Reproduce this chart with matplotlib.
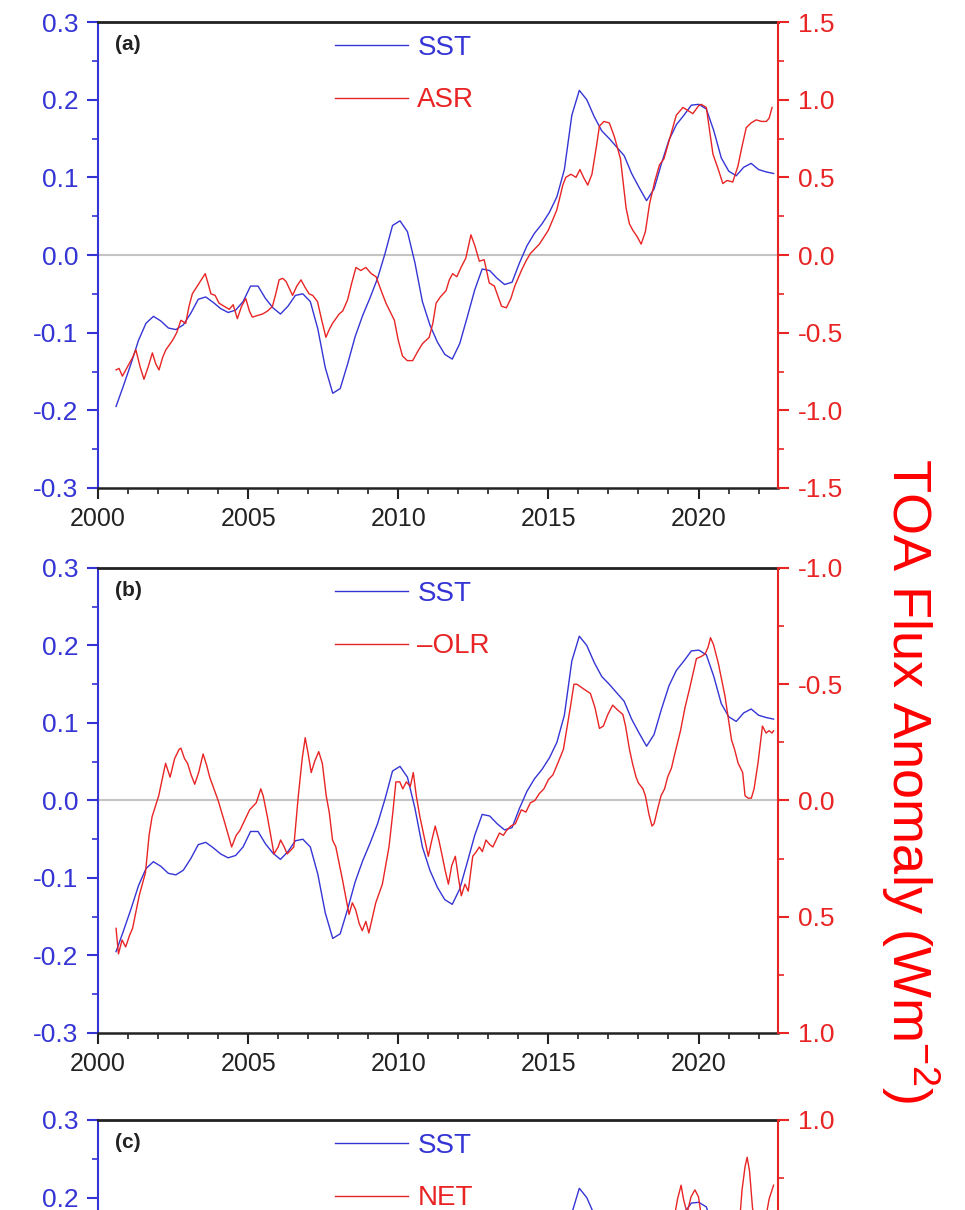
import numpy as np
import matplotlib
matplotlib.use("Agg")
import matplotlib.pyplot as plt
from matplotlib.ticker import MultipleLocator, FormatStrFormatter, NullFormatter, FuncFormatter

plt.rcParams["font.family"] = ["Liberation Sans", "DejaVu Sans"]
plt.rcParams["mathtext.default"] = "regular"
plt.rcParams["axes.unicode_minus"] = False

# SST anomaly (K), roughly quarterly from mid 2000 to mid 2022
sst_t = np.linspace(2000.6, 2022.5, 89)
sst = [-0.195, -0.168, -0.140, -0.110, -0.088, -0.079, -0.085, -0.094, -0.096, -0.090,
       -0.075, -0.057, -0.054, -0.061, -0.069, -0.074, -0.071, -0.060, -0.040, -0.040,
       -0.056, -0.068, -0.076, -0.066, -0.052, -0.050, -0.060, -0.095, -0.145, -0.178,
       -0.172, -0.140, -0.105, -0.078, -0.055, -0.030, 0.002, 0.038, 0.044, 0.030,
       -0.010, -0.060, -0.090, -0.112, -0.128, -0.134, -0.114, -0.080, -0.045, -0.018,
       -0.020, -0.030, -0.038, -0.035, -0.010, 0.012, 0.028, 0.040, 0.055, 0.075,
       0.110, 0.180, 0.212, 0.200, 0.178, 0.160, 0.150, 0.139, 0.128, 0.105,
       0.087, 0.070, 0.085, 0.118, 0.148, 0.168, 0.180, 0.193, 0.194, 0.188,
       0.160, 0.125, 0.108, 0.102, 0.113, 0.118, 0.110, 0.107, 0.105]

# ASR anomaly (W m-2)
asr_t = [2000.60, 2000.70, 2000.81, 2000.98, 2001.15, 2001.26, 2001.40, 2001.53, 2001.67, 2001.81,
         2001.92, 2002.03, 2002.15, 2002.26, 2002.48, 2002.62, 2002.76, 2002.92, 2003.03, 2003.14,
         2003.37, 2003.57, 2003.66, 2003.76, 2003.90, 2004.03, 2004.20, 2004.37, 2004.50, 2004.64,
         2004.78, 2004.92, 2005.04, 2005.14, 2005.30, 2005.48, 2005.65, 2005.81, 2005.92, 2006.03,
         2006.15, 2006.26, 2006.38, 2006.48, 2006.62, 2006.76, 2006.90, 2007.03, 2007.15, 2007.31,
         2007.45, 2007.59, 2007.70, 2007.81, 2008.03, 2008.15, 2008.31, 2008.45, 2008.59, 2008.75,
         2008.92, 2009.10, 2009.26, 2009.45, 2009.59, 2009.87, 2010.00, 2010.14, 2010.30, 2010.48,
         2010.65, 2010.81, 2011.03, 2011.15, 2011.26, 2011.40, 2011.59, 2011.70, 2011.81, 2011.95,
         2012.09, 2012.25, 2012.42, 2012.55, 2012.70, 2012.86, 2013.03, 2013.20, 2013.44, 2013.60,
         2013.75, 2013.88, 2014.10, 2014.25, 2014.40, 2014.70, 2015.00, 2015.28, 2015.48, 2015.58,
         2015.75, 2015.92, 2016.05, 2016.17, 2016.31, 2016.45, 2016.60, 2016.70, 2016.85, 2017.03,
         2017.20, 2017.40, 2017.59, 2017.70, 2017.81, 2017.95, 2018.09, 2018.23, 2018.37, 2018.55,
         2018.70, 2018.85, 2019.04, 2019.26, 2019.48, 2019.65, 2019.81, 2020.00, 2020.09, 2020.26,
         2020.48, 2020.66, 2020.81, 2020.95, 2021.14, 2021.31, 2021.45, 2021.59, 2021.75, 2021.92,
         2022.10, 2022.26, 2022.35, 2022.45]
asr = [-0.74, -0.73, -0.78, -0.72, -0.66, -0.61, -0.72, -0.80, -0.72, -0.63,
       -0.70, -0.74, -0.66, -0.61, -0.55, -0.50, -0.42, -0.44, -0.33, -0.25,
       -0.18, -0.12, -0.18, -0.25, -0.26, -0.31, -0.33, -0.35, -0.32, -0.41,
       -0.33, -0.28, -0.36, -0.40, -0.39, -0.38, -0.36, -0.33, -0.25, -0.16,
       -0.15, -0.17, -0.22, -0.26, -0.20, -0.16, -0.21, -0.25, -0.26, -0.30,
       -0.42, -0.53, -0.48, -0.44, -0.38, -0.36, -0.29, -0.18, -0.08, -0.10,
       -0.08, -0.12, -0.14, -0.24, -0.31, -0.42, -0.55, -0.65, -0.68, -0.68,
       -0.62, -0.57, -0.53, -0.44, -0.31, -0.27, -0.23, -0.16, -0.12, -0.14,
       -0.08, -0.02, 0.13, 0.06, -0.04, -0.03, -0.18, -0.20, -0.33, -0.34,
       -0.28, -0.20, -0.10, -0.04, 0.01, 0.07, 0.16, 0.29, 0.45, 0.50,
       0.52, 0.50, 0.55, 0.50, 0.45, 0.52, 0.70, 0.83, 0.86, 0.85,
       0.76, 0.62, 0.30, 0.20, 0.16, 0.12, 0.07, 0.15, 0.33, 0.48,
       0.58, 0.62, 0.75, 0.90, 0.95, 0.93, 0.91, 0.96, 0.97, 0.95,
       0.65, 0.55, 0.46, 0.48, 0.47, 0.57, 0.70, 0.82, 0.85, 0.87,
       0.86, 0.86, 0.88, 0.95]

# OLR anomaly (W m-2), shown on an inverted axis as -OLR
olr_t = [2000.60, 2000.68, 2000.80, 2000.92, 2001.05, 2001.15, 2001.37, 2001.58, 2001.70, 2001.80,
         2002.02, 2002.15, 2002.25, 2002.40, 2002.55, 2002.70, 2002.76, 2002.88, 2002.98, 2003.10,
         2003.22, 2003.35, 2003.50, 2003.62, 2003.72, 2003.86, 2004.00, 2004.23, 2004.45, 2004.60,
         2004.72, 2004.83, 2005.05, 2005.27, 2005.42, 2005.50, 2005.64, 2005.86, 2006.00, 2006.08,
         2006.20, 2006.30, 2006.52, 2006.67, 2006.80, 2006.90, 2007.00, 2007.10, 2007.22, 2007.35,
         2007.47, 2007.60, 2007.70, 2007.81, 2007.92, 2008.14, 2008.36, 2008.47, 2008.58, 2008.70,
         2008.80, 2008.92, 2009.02, 2009.25, 2009.47, 2009.69, 2009.82, 2009.92, 2010.05, 2010.15,
         2010.27, 2010.40, 2010.50, 2010.60, 2010.72, 2010.85, 2011.00, 2011.10, 2011.23, 2011.35,
         2011.45, 2011.56, 2011.67, 2011.78, 2011.90, 2012.00, 2012.10, 2012.22, 2012.33, 2012.48,
         2012.60, 2012.70, 2012.80, 2012.92, 2013.05, 2013.15, 2013.37, 2013.50, 2013.60, 2013.75,
         2013.90, 2014.10, 2014.25, 2014.40, 2014.55, 2014.70, 2014.85, 2015.00, 2015.15, 2015.28,
         2015.50, 2015.73, 2015.85, 2015.95, 2016.17, 2016.40, 2016.55, 2016.70, 2016.83, 2016.98,
         2017.14, 2017.30, 2017.48, 2017.57, 2017.70, 2017.80, 2017.92, 2018.00, 2018.15, 2018.23,
         2018.35, 2018.45, 2018.52, 2018.65, 2018.75, 2018.87, 2018.97, 2019.10, 2019.19, 2019.40,
         2019.55, 2019.70, 2019.93, 2020.10, 2020.22, 2020.32, 2020.40, 2020.50, 2020.66, 2020.88,
         2021.10, 2021.20, 2021.32, 2021.47, 2021.55, 2021.65, 2021.76, 2021.85, 2021.98, 2022.13,
         2022.25, 2022.35, 2022.45, 2022.50]
olr = [0.55, 0.66, 0.60, 0.63, 0.58, 0.55, 0.41, 0.31, 0.15, 0.07,
       -0.02, -0.10, -0.16, -0.10, -0.18, -0.22, -0.225, -0.18, -0.16, -0.11,
       -0.07, -0.12, -0.20, -0.15, -0.10, -0.05, 0.00, 0.10, 0.20, 0.15,
       0.13, 0.10, 0.04, 0.01, -0.05, -0.02, 0.07, 0.23, 0.20, 0.17,
       0.20, 0.23, 0.20, -0.02, -0.18, -0.27, -0.20, -0.12, -0.17, -0.21,
       -0.16, -0.02, 0.05, 0.17, 0.20, 0.34, 0.49, 0.44, 0.47, 0.53,
       0.56, 0.52, 0.57, 0.44, 0.36, 0.20, 0.05, -0.08, -0.08, -0.05,
       -0.08, -0.06, -0.12, -0.02, 0.07, 0.15, 0.24, 0.18, 0.11, 0.17,
       0.23, 0.30, 0.36, 0.28, 0.24, 0.33, 0.41, 0.36, 0.39, 0.24,
       0.22, 0.20, 0.22, 0.17, 0.19, 0.20, 0.14, 0.15, 0.13, 0.11,
       0.10, 0.04, 0.05, 0.01, 0.00, -0.03, -0.05, -0.09, -0.11, -0.15,
       -0.22, -0.40, -0.50, -0.50, -0.48, -0.46, -0.40, -0.31, -0.32, -0.37,
       -0.41, -0.39, -0.37, -0.32, -0.22, -0.16, -0.10, -0.075, -0.05, -0.02,
       0.06, 0.11, 0.10, 0.03, -0.02, -0.05, -0.10, -0.14, -0.19, -0.30,
       -0.40, -0.48, -0.61, -0.62, -0.63, -0.66, -0.70, -0.67, -0.59, -0.45,
       -0.26, -0.22, -0.16, -0.12, -0.02, -0.01, -0.01, -0.05, -0.16, -0.32,
       -0.29, -0.30, -0.29, -0.30]

# NET anomaly (W m-2)
net_t = [2000.6, 2001.0, 2001.5, 2002.0, 2002.5, 2003.0, 2003.5, 2004.0, 2004.5, 2005.0,
         2005.5, 2006.0, 2006.5, 2007.0, 2007.5, 2008.0, 2008.5, 2009.0, 2009.5, 2010.0,
         2010.5, 2011.0, 2011.5, 2012.0, 2012.5, 2013.0, 2013.5, 2014.0, 2014.5, 2015.0,
         2015.5, 2016.0, 2016.5, 2017.0, 2017.5, 2018.0, 2018.5, 2018.9, 2019.15, 2019.3,
         2019.42, 2019.5, 2019.62, 2019.75, 2019.88, 2020.0, 2020.1, 2020.3, 2020.6, 2021.0,
         2021.3, 2021.45, 2021.55, 2021.62, 2021.7, 2021.8, 2022.0, 2022.2, 2022.35, 2022.5]
net = [-0.20, -0.25, -0.10, 0.10, 0.20, 0.05, 0.10, -0.15, -0.30, -0.35,
       -0.30, -0.05, 0.10, 0.05, -0.20, -0.30, -0.20, 0.05, 0.15, -0.25,
       -0.60, -0.70, -0.40, -0.30, -0.10, -0.20, -0.30, -0.05, 0.05, 0.25,
       0.35, 0.20, 0.40, 0.50, 0.40, 0.05, 0.30, 0.45, 0.55, 0.66,
       0.72, 0.66, 0.60, 0.67, 0.70, 0.67, 0.58, 0.45, 0.30, 0.15,
       0.45, 0.70, 0.80, 0.84, 0.78, 0.62, 0.50, 0.55, 0.66, 0.72]

BLUE = "#3535d5"
RED = "#e82424"
FS = 19

fig = plt.figure(figsize=(9.65, 12.1), dpi=100)

panels = [
    ("(a)", [0.1016, 0.5967, 0.7047, 0.3851], asr_t, asr, "ASR", (-1.5, 1.5)),
    ("(b)", [0.1016, 0.1463, 0.7047, 0.3843], olr_t, olr, "\u2013OLR", (1.0, -1.0)),
    ("(c)", [0.1016, -0.3107, 0.7047, 0.3851], net_t, net, "NET", (-1.0, 1.0)),
]

for tag, rect, rt, rv, rname, rlim in panels:
    ax = fig.add_axes(rect)
    ax2 = ax.twinx()

    ax.axhline(0, color="#c4c4c4", lw=1.5, zorder=0)
    l1, = ax.plot(sst_t, sst, color=BLUE, lw=1.0, label="SST")
    l2, = ax2.plot(rt, rv, color=RED, lw=1.0, label=rname)

    ax.set_xlim(2000, 2022.65)
    ax.set_ylim(-0.3, 0.3)
    ax2.set_ylim(*rlim)

    ax.xaxis.set_major_locator(MultipleLocator(5))
    ax.xaxis.set_minor_locator(MultipleLocator(1))
    ax.yaxis.set_major_locator(MultipleLocator(0.1))
    ax.yaxis.set_minor_locator(MultipleLocator(0.05))
    ax.yaxis.set_major_formatter(FormatStrFormatter("%.1f"))
    ax2.yaxis.set_major_locator(MultipleLocator(0.5))
    ax2.yaxis.set_minor_locator(MultipleLocator(0.25))
    ax2.yaxis.set_major_formatter(FormatStrFormatter("%.1f"))

    # spines
    ax.spines["left"].set_color(BLUE)
    ax.spines["left"].set_linewidth(1.5)
    ax.spines["right"].set_visible(False)
    ax.spines["top"].set_color("#222222")
    ax.spines["top"].set_linewidth(2)
    ax.spines["bottom"].set_color("#222222")
    ax.spines["bottom"].set_linewidth(1.8)
    ax2.spines["left"].set_visible(False)
    ax2.spines["top"].set_visible(False)
    ax2.spines["bottom"].set_visible(False)
    ax2.spines["right"].set_color(RED)
    ax2.spines["right"].set_linewidth(1.5)

    ax.tick_params(axis="y", which="major", direction="out", length=8, width=1.5,
                   color=BLUE, labelcolor=BLUE, labelsize=FS, pad=6)
    ax.tick_params(axis="y", which="minor", direction="out", length=4, width=1.2, color=BLUE)
    ax.tick_params(axis="x", which="major", direction="out", length=8, width=1.5,
                   color="#222222", labelcolor="#222222", labelsize=FS - 1, pad=6)
    ax.tick_params(axis="x", which="minor", direction="out", length=4, width=1.2, color="#222222")
    ax2.tick_params(axis="y", which="major", direction="out", length=8, width=1.5,
                    color=RED, labelcolor=RED, labelsize=FS, pad=6)
    ax2.tick_params(axis="y", which="minor", direction="out", length=4, width=1.2, color=RED)

    if tag == "(c)":
        # lower part of this panel lies below the page edge: only label what is on the page
        ax.xaxis.set_major_formatter(NullFormatter())
        ax.yaxis.set_major_formatter(FuncFormatter(lambda v, p: f"{v:.1f}" if v > 0.15 else ""))
        ax2.yaxis.set_major_formatter(FuncFormatter(lambda v, p: f"{v:.1f}" if v > 0.6 else ""))

    ax.text(0.025, 0.951, tag, transform=ax.transAxes, fontsize=15, fontweight="bold",
            va="center", ha="left", color="#222222")

    leg = ax2.legend([l1, l2], ["SST", rname], loc="upper left",
                     bbox_to_anchor=(0.349, 0.972), frameon=False, fontsize=20,
                     handlelength=2.6, handletextpad=0.35, labelspacing=0.95,
                     borderpad=0, borderaxespad=0)
    for txt, c in zip(leg.get_texts(), [BLUE, RED]):
        txt.set_color(c)

fig.text(0.943, 0.355, "TOA Flux Anomaly (Wm$^{-2}$)", rotation=270, color="#ff0000",
         fontsize=39, ha="center", va="center")

fig.savefig("out.png", dpi=100)
